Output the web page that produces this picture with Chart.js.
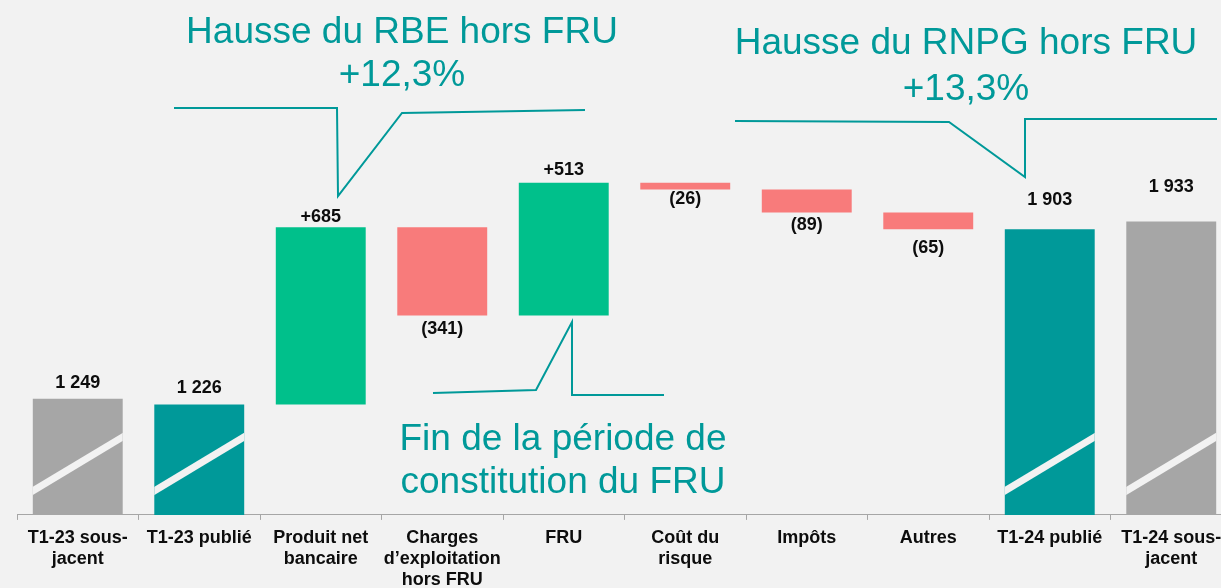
<!DOCTYPE html>
<html>
<head>
<meta charset="utf-8">
<script src="https://cdn.jsdelivr.net/npm/chart.js@4"></script>
<style>
    html, body { margin: 0; padding: 0; background: #f2f2f2; overflow: hidden; }
    #wrap { width: 1235px; height: 598px; position: relative; }
</style>
</head>
<body>
<div id="wrap"><canvas id="waterfall"></canvas></div>
<script>
// categories and values (M€)
const categories = [
    ['T1-23 sous-', 'jacent'],
    'T1-23 publié',
    ['Produit net', 'bancaire'],
    ['Charges', 'd\u2019exploitation', 'hors FRU'],
    'FRU',
    ['Coût du', 'risque'],
    'Impôts',
    'Autres',
    'T1-24 publié',
    ['T1-24 sous-', 'jacent']
];
const values = [1249, 1226, 685, -341, 513, -26, -89, -65, 1903, 1933];
const kinds = ['underlying', 'reported', 'delta', 'delta', 'delta', 'delta', 'delta', 'delta', 'reported', 'underlying'];

// bottom of the broken axis
const axisMin = 800;
const axisMax = 2789;

const colors = {
    underlying: '#a6a6a6',
    reported: '#009999',
    up: '#00c08b',
    down: '#f87b7b'
};

// build the floating bars of the waterfall
let running = 0;
const bars = [];
const barColors = [];
values.forEach((v, i) => {
    if (kinds[i] === 'delta') {
        bars.push([running, running + v]);
        running += v;
        barColors.push(v >= 0 ? colors.up : colors.down);
    } else {
        bars.push([axisMin, v]);
        running = v;
        barColors.push(colors[kinds[i]]);
    }
});

function fmt(v, kind) {
    if (kind !== 'delta') return String(v).replace(/\B(?=(\d{3})+(?!\d))/g, ' ');
    return v >= 0 ? '+' + v : '(' + Math.abs(v) + ')';
}

// white diagonal "axis break" strokes on the total bars
const breakMarks = {
    id: 'breakMarks',
    afterDatasetsDraw(chart) {
        const ctx = chart.ctx;
        chart.getDatasetMeta(0).data.forEach((bar, i) => {
            if (kinds[i] === 'delta') return;
            const left = bar.x - bar.width / 2, right = bar.x + bar.width / 2;
            const bottom = Math.max(bar.base, bar.y);
            ctx.save();
            ctx.beginPath();
            ctx.rect(left, 0, bar.width, bottom);
            ctx.clip();
            ctx.strokeStyle = '#f2f2f2';
            ctx.lineWidth = 7;
            ctx.beginPath();
            ctx.moveTo(left - 4, bottom - 24 + 2.4);
            ctx.lineTo(right + 4, bottom - 78 - 2.4);
            ctx.stroke();
            ctx.restore();
        });
    }
};

// value labels
const labelGap = [16, 17, 10, 13, 13, 10, 12, 19, 29, 35];
const valueLabels = {
    id: 'valueLabels',
    afterDatasetsDraw(chart) {
        const ctx = chart.ctx;
        ctx.save();
        ctx.font = 'bold 18px "Liberation Sans", Arial, sans-serif';
        ctx.fillStyle = '#0d0d0d';
        ctx.textAlign = 'center';
        ctx.textBaseline = 'middle';
        chart.getDatasetMeta(0).data.forEach((bar, i) => {
            const top = Math.min(bar.y, bar.base);
            const bottom = Math.max(bar.y, bar.base);
            const text = fmt(values[i], kinds[i]);
            if (kinds[i] === 'delta' && values[i] < 0) {
                ctx.fillText(text, bar.x, bottom + labelGap[i]);
            } else {
                ctx.fillText(text, bar.x, top - labelGap[i]);
            }
        });
        ctx.restore();
    }
};

// callouts
const callouts = {
    id: 'callouts',
    afterDraw(chart) {
        const ctx = chart.ctx;
        const teal = '#009999';
        ctx.save();
        ctx.strokeStyle = teal;
        ctx.lineWidth = 2;
        ctx.lineJoin = 'miter';
        const paths = [
            [[174, 108], [337, 108], [338, 196], [402, 113], [585, 110]],
            [[735, 121], [949, 122], [1025, 177], [1025, 119], [1217, 119]],
            [[433, 393], [536, 390], [572, 322], [572, 395], [664, 395]]
        ];
        paths.forEach(p => {
            ctx.beginPath();
            p.forEach((pt, k) => k ? ctx.lineTo(pt[0], pt[1]) : ctx.moveTo(pt[0], pt[1]));
            ctx.stroke();
        });
        ctx.fillStyle = teal;
        ctx.font = '37px "Liberation Sans", Arial, sans-serif';
        ctx.textAlign = 'center';
        ctx.textBaseline = 'middle';
        ctx.fillText('Hausse du RBE hors FRU', 402, 33);
        ctx.fillText('+12,3%', 402, 76);
        ctx.fillText('Hausse du RNPG hors FRU', 966, 44);
        ctx.fillText('+13,3%', 966, 90);
        ctx.fillText('Fin de la période de', 563, 440);
        ctx.fillText('constitution du FRU', 563, 483);
        ctx.restore();
    }
};

new Chart(document.getElementById('waterfall'), {
    type: 'bar',
    data: {
        labels: categories,
        datasets: [{
            data: bars,
            backgroundColor: barColors,
            borderWidth: 0,
            barPercentage: 0.74,
            categoryPercentage: 1
        }]
    },
    options: {
        responsive: true,
        maintainAspectRatio: false,
        animation: false,
        layout: { padding: { left: 17, right: 3, top: 0, bottom: 0 } },
        plugins: {
            legend: { display: false },
            tooltip: { enabled: false }
        },
        scales: {
            x: {
                grid: {
                    display: true,
                    drawOnChartArea: false,
                    drawTicks: true,
                    tickLength: 5,
                    color: '#a6a6a6',
                    offset: true
                },
                border: { color: '#a6a6a6' },
                ticks: {
                    color: '#0d0d0d',
                    font: { family: '"Liberation Sans", Arial, sans-serif', size: 18, weight: 'bold', lineHeight: 1.15 },
                    padding: 8,
                    maxRotation: 0,
                    autoSkip: false
                }
            },
            y: {
                display: false,
                min: axisMin,
                max: axisMax
            }
        }
    },
    plugins: [breakMarks, valueLabels, callouts]
});
</script>
</body>
</html>
